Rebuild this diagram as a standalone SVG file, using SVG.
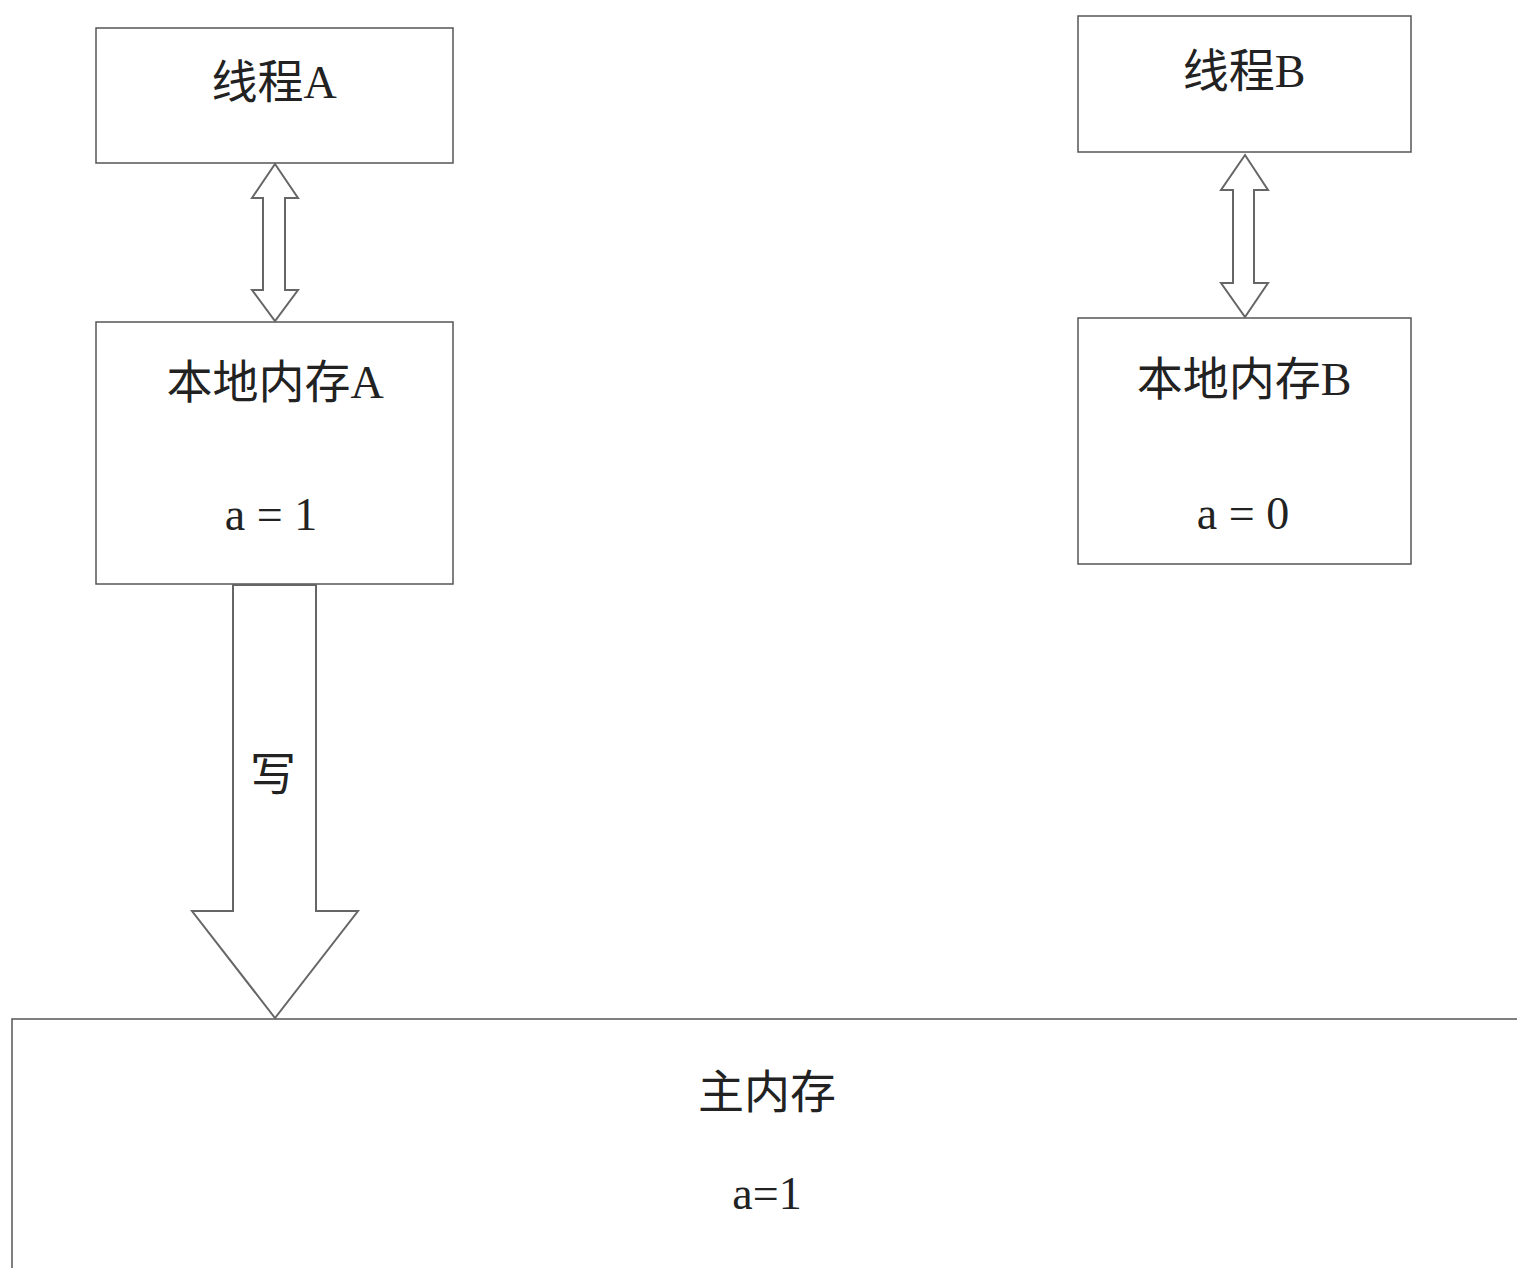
<svg xmlns="http://www.w3.org/2000/svg" width="1517" height="1268" viewBox="0 0 1517 1268">
<style>
.box{fill:#fff;stroke:#555;stroke-width:1.5}
.arr{fill:#fff;stroke:#666;stroke-width:2;stroke-linejoin:miter}
.t{font-family:"Liberation Serif","Noto Sans CJK SC",serif;font-size:46px;fill:#222;text-anchor:middle}
</style>
<rect width="1517" height="1268" fill="#fff"/>
<g id="threadA"><rect class="box" x="96" y="28" width="357" height="135"/><text class="t" x="274" y="98">线程A</text></g>
<g id="threadB"><rect class="box" x="1078" y="16" width="333" height="136"/><text class="t" x="1244" y="87">线程B</text></g>
<g id="localA"><rect class="box" x="96" y="322" width="357" height="262"/><text class="t" x="275" y="398">本地内存A</text><text class="t" x="271" y="530">a = 1</text></g>
<g id="localB"><rect class="box" x="1078" y="318" width="333" height="246"/><text class="t" x="1244" y="395">本地内存B</text><text class="t" x="1243" y="529">a = 0</text></g>
<g id="main"><rect class="box" x="12" y="1019" width="1520" height="260"/><text class="t" x="767" y="1108">主内存</text><text class="t" x="767" y="1209">a=1</text></g>
<g id="connectors">
<path class="arr" d="M275,164 L298,198 L285,198 L285,290 L298,290 L275,321 L252,290 L263,290 L263,198 L252,198 Z"/>
<path class="arr" d="M1245,155 L1268,190 L1254,190 L1254,283 L1268,283 L1245,317 L1221,283 L1233,283 L1233,190 L1221,190 Z"/>
<path class="arr" d="M233,585 L316,585 L316,911 L358,911 L275,1018 L192,911 L233,911 Z"/>
<text class="t" x="273" y="790">写</text>
</g>
</svg>
